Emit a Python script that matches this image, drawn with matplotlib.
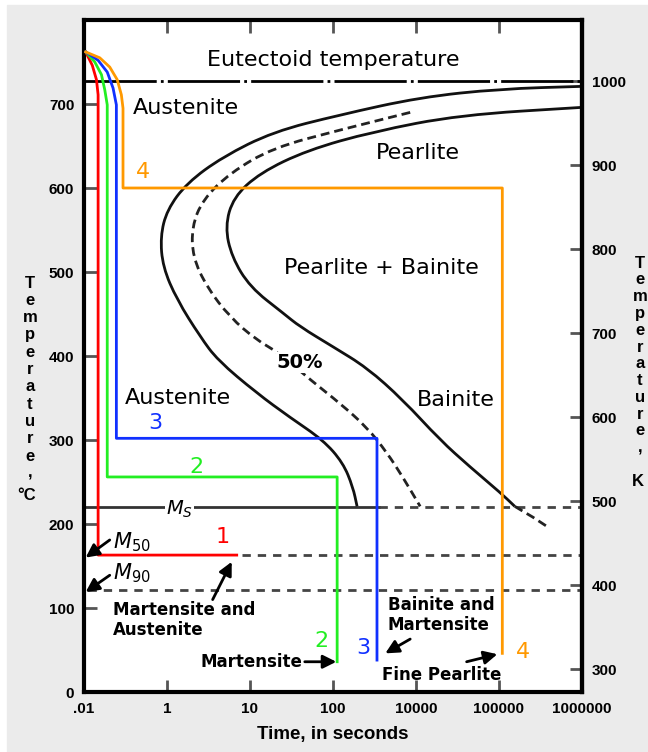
import matplotlib
matplotlib.use("Agg")
import matplotlib.pyplot as plt
from matplotlib.patches import Rectangle, PathPatch
from matplotlib.path import Path

# x positions are tick slots (evenly spaced decades as printed on the chart)
time_labels = ['.01', '1', '10', '100', '10000', '100000', '1000000']
time_pos = [0, 1, 2, 3, 4, 5, 6]
temp_c_ticks = [0, 100, 200, 300, 400, 500, 600, 700]
temp_k_ticks = [300, 400, 500, 600, 700, 800, 900, 1000]

# critical temperatures (deg C)
eutectoid_T = 727
ms_T = 220
m50_T = 163
m90_T = 121

# transformation start curve (solid, outer)
start_t = [6.00, 5.01, 4.05, 3.08, 2.28, 1.67, 1.24, 1.00, 0.92, 0.95, 1.12, 1.40,
           1.61, 2.08, 2.48, 2.88, 3.12, 3.24, 3.29]
start_T = [721, 718, 708, 687, 667, 637, 606, 574, 542, 506, 467, 423,
           395, 356, 327, 300, 273, 244, 221]

# 50% transformation curve (dashed)
half_t = [3.93, 3.08, 2.28, 1.76, 1.43, 1.30, 1.31, 1.48, 1.76, 2.08, 2.33, 2.76,
          3.08, 3.41, 3.65, 3.84, 4.05]
half_T = [690, 669, 648, 618, 586, 554, 518, 482, 446, 419, 405, 369,
          344, 315, 285, 256, 221]

# transformation finish curve (solid, inner)
finish_t = [6.00, 4.53, 3.48, 2.69, 2.12, 1.80, 1.70, 1.78, 2.00, 2.40, 2.60, 3.00,
            3.41, 3.84, 4.29, 4.65, 5.02, 5.19]
finish_T = [696, 687, 667, 645, 618, 589, 554, 518, 482, 451, 435, 411,
            386, 348, 300, 268, 237, 221]
finish_tail_t = [5.19, 5.41, 5.61]
finish_tail_T = [221, 208, 195]

# cooling paths 1-4
red_t = [0.02, 0.10, 0.15, 0.17, 0.17, 1.84]
red_T = [762, 746, 729, 711, 163, 163]
green_t = [0.02, 0.13, 0.21, 0.25, 0.28, 0.28, 3.05, 3.05]
green_T = [762, 750, 735, 717, 699, 256, 256, 36]
blue_t = [0.02, 0.17, 0.28, 0.35, 0.39, 0.39, 3.53, 3.53]
blue_T = [762, 752, 738, 719, 699, 302, 302, 38]
orange_t = [0.02, 0.19, 0.31, 0.40, 0.45, 0.47, 0.47, 5.04, 5.04]
orange_T = [762, 755, 744, 729, 711, 695, 600, 600, 46]


def smooth_curve(ax, xs, ys, **kw):
    # quadratic Bezier through segment midpoints, read points as control points
    pts = list(zip(xs, ys))
    mid = lambda a, b: ((a[0] + b[0]) / 2, (a[1] + b[1]) / 2)
    verts = [pts[0], mid(pts[0], pts[1])]
    codes = [Path.MOVETO, Path.LINETO]
    for i in range(1, len(pts) - 1):
        verts += [pts[i], mid(pts[i], pts[i + 1])]
        codes += [Path.CURVE3, Path.CURVE3]
    verts.append(pts[-1])
    codes.append(Path.LINETO)
    ax.add_patch(PathPatch(Path(verts, codes), fill=False, capstyle='butt', **kw))


W, H = 648, 752
fig = plt.figure(figsize=(W / 100, H / 100), dpi=100)
fig.patches.append(Rectangle((7 / W, 0), 1 - 7 / W, 1 - 5 / H,
                             transform=fig.transFigure, color='#ebebeb', zorder=-5))

ax = fig.add_axes([84 / W, 60 / H, 498 / W, 672 / H])
ax.set_facecolor('white')
ax.set_xlim(0, 6)
ax.set_ylim(0, 800)

tick_font = dict(family='Liberation Sans', weight='bold', size=11)
ax.set_xticks(time_pos)
ax.set_xticklabels(time_labels, fontdict=tick_font)
ax.set_yticks(temp_c_ticks)
ax.set_yticklabels([str(v) for v in temp_c_ticks], fontdict=tick_font)
ax.tick_params(direction='in', length=9, width=2, color='#555555', pad=7,
               top=True, labeltop=False)
for s in ax.spines.values():
    s.set_linewidth(3)

sec = ax.secondary_yaxis('right', functions=(lambda c: c + 273, lambda k: k - 273))
sec.set_yticks(temp_k_ticks)
sec.set_yticklabels([str(v) for v in temp_k_ticks], fontdict=tick_font)
sec.tick_params(direction='in', length=9, width=2, color='#555555', pad=7)
sec.spines['right'].set_linewidth(3)

# reference lines
ax.plot([0, 6], [eutectoid_T] * 2, color='black', lw=2, ls=(0, (26, 1.5, 1, 1.5)), zorder=2)
ax.plot([0, 3.55], [ms_T] * 2, color='#333333', lw=2, zorder=2)
ax.plot([3.55, 6], [ms_T] * 2, color='#444444', lw=2, ls=(0, (3, 2.5)), zorder=2)
ax.plot([1.9, 6], [m50_T] * 2, color='#444444', lw=2, ls=(0, (3, 2.5)), zorder=2)
ax.plot([0.05, 6], [m90_T] * 2, color='#444444', lw=2, ls=(0, (3, 2.5)), zorder=2)

# TTT curves
smooth_curve(ax, start_t, start_T, edgecolor='#111111', lw=2, zorder=2)
smooth_curve(ax, half_t, half_T, edgecolor='#222222', lw=2, ls=(0, (3.2, 1.8)), zorder=2)
smooth_curve(ax, finish_t, finish_T, edgecolor='#111111', lw=2, zorder=2)
ax.plot(finish_tail_t, finish_tail_T, color='#222222', lw=2, ls=(0, (3.2, 1.8)), zorder=2)

# cooling paths
ax.plot(red_t, red_T, color='#ff0000', lw=2, zorder=3)
ax.plot(green_t, green_T, color='#22ee22', lw=2, zorder=3)
ax.plot(blue_t, blue_T, color='#1030ff', lw=2, zorder=3)
ax.plot(orange_t, orange_T, color='#ff9900', lw=2, zorder=3)

# region labels
big = dict(size=16, zorder=4)
ax.text(3.0, 752, 'Eutectoid temperature', ha='center', va='center', **big)
ax.text(0.59, 695, 'Austenite', ha='left', va='center', **big)
ax.text(4.02, 642, 'Pearlite', ha='center', va='center', **big)
ax.text(3.58, 505, 'Pearlite + Bainite', ha='center', va='center', **big)
ax.text(0.49, 350, 'Austenite', ha='left', va='center', **big)
ax.text(4.48, 348, 'Bainite', ha='center', va='center', **big)
ax.text(2.60, 392, '50%', ha='center', va='center', size=14, weight='bold', zorder=4,
        bbox=dict(facecolor='white', edgecolor='none', pad=0.5))

# path numbers
ax.text(0.71, 619, '4', color='#ff9900', ha='center', va='center', **big)
ax.text(0.86, 320, '3', color='#1030ff', ha='center', va='center', **big)
ax.text(1.36, 268, '2', color='#22ee22', ha='center', va='center', **big)
ax.text(1.67, 185, '1', color='#ff0000', ha='center', va='center', **big)
ax.text(2.86, 61, '2', color='#22ee22', ha='center', va='center', **big)
ax.text(3.36, 52, '3', color='#1030ff', ha='center', va='center', **big)
ax.text(5.29, 48, '4', color='#ff9900', ha='center', va='center', **big)

# martensite temperatures
ax.text(1.15, 218, r'$M_S$', size=14, ha='center', va='center', zorder=4,
        bbox=dict(facecolor='white', edgecolor='none', pad=1))
ax.text(0.35, 178, r'$M_{50}$', size=15, ha='left', va='center', zorder=4)
ax.text(0.35, 141, r'$M_{90}$', size=15, ha='left', va='center', zorder=4)

arrow = dict(arrowstyle='-|>', color='black', lw=2, mutation_scale=20, shrinkA=0, shrinkB=0)
ax.annotate('', xy=(0.02, 160), xytext=(0.31, 181), arrowprops=arrow, zorder=4)
ax.annotate('', xy=(0.02, 119), xytext=(0.31, 139), arrowprops=arrow, zorder=4)

small = dict(size=12, weight='bold', zorder=4)
ax.text(0.35, 86, 'Martensite and\nAustenite', ha='left', va='center', linespacing=1.15, **small)
ax.annotate('', xy=(1.78, 155), xytext=(1.55, 110), arrowprops=arrow, zorder=4)
ax.text(2.63, 36, 'Martensite', ha='right', va='center', **small)
ax.annotate('', xy=(3.04, 36), xytext=(2.66, 36), arrowprops=arrow, zorder=4)
ax.text(3.66, 92, 'Bainite and\nMartensite', ha='left', va='center', linespacing=1.15, **small)
ax.annotate('', xy=(3.63, 46), xytext=(3.93, 63), arrowprops=arrow, zorder=4)
ax.text(4.31, 20, 'Fine Pearlite', ha='center', va='center', **small)
ax.annotate('', xy=(4.98, 45), xytext=(4.61, 36), arrowprops=arrow, zorder=4)

# axis titles
fig.text(333 / W, 1 - 735 / H, 'Time, in seconds', ha='center', va='center',
         family='Liberation Sans', weight='bold', size=13.5)
lab = dict(ha='center', va='center', family='Liberation Sans', weight='bold', size=12)
for i, ch in enumerate('Temperature,'):
    fig.text(30 / W, 1 - (283 + i * 17.3) / H, ch, **lab)
    fig.text(640 / W, 1 - (263 + i * 16.8) / H, ch, **lab)
fig.text(27 / W, 1 - 495 / H, '°C', **lab)
fig.text(638 / W, 1 - 482 / H, 'K', **lab)

fig.savefig('out.png', dpi=100)
